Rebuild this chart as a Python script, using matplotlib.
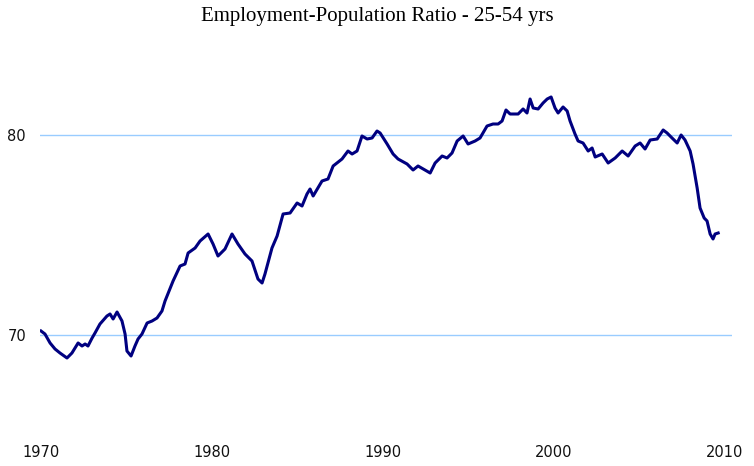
import numpy as np
import matplotlib.pyplot as plt

# Employment-population ratio, 25-54 yrs
years = [1970.0, 1970.23, 1970.53, 1970.82, 1971.11, 1971.52, 1971.81, 1972.17, 1972.40, 1972.58,
         1972.75, 1972.99, 1973.16, 1973.45, 1973.86, 1974.04, 1974.22, 1974.45, 1974.74, 1974.92,
         1975.03, 1975.27, 1975.50, 1975.68, 1975.91, 1976.21, 1976.50, 1976.79, 1977.08, 1977.26,
         1977.73, 1978.14, 1978.43, 1978.61, 1979.02, 1979.31, 1979.78, 1980.07, 1980.36, 1980.77,
         1981.18, 1981.53, 1981.94, 1982.35, 1982.70, 1982.94, 1983.11, 1983.52, 1983.82, 1984.17,
         1984.58, 1984.99, 1985.28, 1985.57, 1985.75, 1985.93, 1986.45, 1986.80, 1987.10, 1987.62,
         1987.97, 1988.21, 1988.50, 1988.79, 1989.09, 1989.38, 1989.67, 1989.85, 1990.26, 1990.61,
         1990.90, 1991.43, 1991.78, 1992.07, 1992.48, 1992.78, 1993.07, 1993.48, 1993.77, 1994.06,
         1994.36, 1994.71, 1995.00, 1995.41, 1995.70, 1996.11, 1996.46, 1996.76, 1996.99, 1997.22,
         1997.46, 1997.93, 1998.22, 1998.45, 1998.63, 1998.81, 1999.10, 1999.39, 1999.63, 1999.86,
         2000.09, 2000.27, 2000.56, 2000.80, 2000.97, 2001.26, 2001.44, 2001.73, 2002.03, 2002.26,
         2002.44, 2002.85, 2003.20, 2003.61, 2004.02, 2004.37, 2004.78, 2005.07, 2005.36, 2005.66,
         2006.07, 2006.42, 2006.65, 2006.94, 2007.24, 2007.47, 2007.70, 2008.00, 2008.17, 2008.41,
         2008.58, 2008.82, 2008.99, 2009.17, 2009.34, 2009.46, 2009.64]
ratio = [70.2, 70.05, 69.6, 69.3, 69.1, 68.85, 69.1, 69.6, 69.45, 69.55,
         69.45, 69.85, 70.1, 70.55, 70.95, 71.05, 70.8, 71.15, 70.7, 70.05,
         69.2, 68.95, 69.45, 69.8, 70.05, 70.6, 70.7, 70.85, 71.2, 71.7,
         72.7, 73.45, 73.55, 74.1, 74.35, 74.7, 75.05, 74.55, 73.95, 74.3,
         75.05, 74.55, 74.05, 73.7, 72.8, 72.6, 73.05, 74.35, 74.95, 76.05,
         76.1, 76.6, 76.45, 77.05, 77.3, 76.95, 77.7, 77.8, 78.45, 78.8,
         79.2, 79.05, 79.2, 79.95, 79.8, 79.85, 80.2, 80.1, 79.55, 79.05,
         78.8, 78.55, 78.25, 78.45, 78.25, 78.1, 78.6, 78.95, 78.85, 79.1,
         79.7, 79.95, 79.55, 79.7, 79.85, 80.45, 80.55, 80.55, 80.7, 81.25,
         81.05, 81.05, 81.3, 81.1, 81.8, 81.35, 81.3, 81.6, 81.8, 81.9,
         81.35, 81.1, 81.4, 81.2, 80.7, 80.05, 79.7, 79.6, 79.2, 79.35,
         78.9, 79.05, 78.6, 78.85, 79.2, 78.95, 79.45, 79.6, 79.3, 79.75,
         79.8, 80.25, 80.1, 79.85, 79.6, 80.0, 79.75, 79.2, 78.55, 77.35,
         76.35, 75.85, 75.7, 75.05, 74.8, 75.05, 75.1]

xticks = [1970, 1980, 1990, 2000, 2010]
yticks = [70, 80]

fig = plt.figure(figsize=(7.54, 4.66), dpi=100)
ax = fig.add_axes([40 / 754, 31 / 466, 692 / 754, 400 / 466])

ax.plot(years, ratio, color='#000080', linewidth=2.2, solid_joinstyle='round')

ax.set_xlim(1969.94, 2010.45)
ax.set_ylim(65, 85)
ax.set_xticks(xticks)
ax.set_yticks(yticks)
ax.tick_params(length=0, labelsize=10.5, colors='#111111')
ax.tick_params(axis='x', pad=7)
ax.tick_params(axis='y', pad=10)
ax.grid(axis='y', color='#99ccff', linewidth=1)
ax.set_axisbelow(True)
for s in ax.spines.values():
    s.set_visible(False)

fig.text(377 / 754, 1 - 17 / 466, 'Employment-Population Ratio - 25-54 yrs',
         ha='center', va='center', fontsize=15, family='Liberation Serif')

fig.savefig('out.png', dpi=100)
